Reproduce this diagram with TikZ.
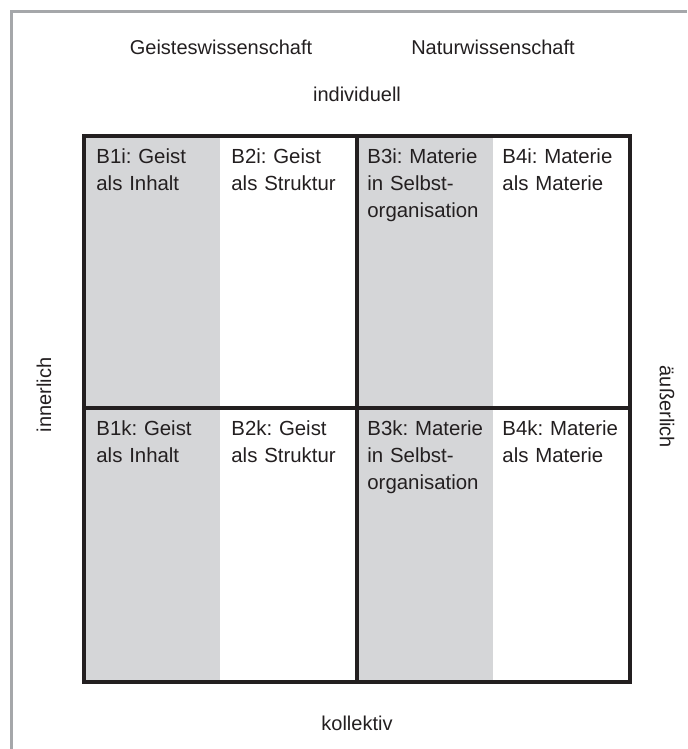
\documentclass[tikz,border=0pt]{standalone}
\usepackage{fontspec}
\setmainfont{Liberation Sans}
\definecolor{cellgray}{HTML}{D5D6D8}
\definecolor{framegray}{HTML}{A5A7AA}
\definecolor{inkgray}{HTML}{231F20}

\begin{document}
\frenchspacing
\begin{tikzpicture}
 [x=0.5pt, y=-0.5pt,
  cell text/.style={anchor=base west, inner sep=0pt, text width=64pt, align=left, font=\fontsize{10.2}{13.5}\selectfont\frenchspacing, text=inkgray},
  axis label/.style={inner sep=0pt, font=\fontsize{10}{12}\selectfont, text=inkgray},
  box line/.style={line width=2pt, draw=inkgray}]

\useasboundingbox (0,0) rectangle (687,749);

% frame
\draw[framegray, line width=1.5pt] (11,749) -- (11,12) -- (687,12);

% grey columns
\fill[cellgray] (85,136) rectangle (220,682);
\fill[cellgray] (357,136) rectangle (493,682);

% grid
\draw[box line] (84,136) rectangle (630,682);
\draw[box line] (357,136) -- (357,682);
\draw[box line] (84,408) -- (630,408);

\node[axis label, anchor=base] (geist) at (221,55) {Geisteswissenschaft};
\node[axis label, anchor=base] (natur) at (493,55) {Naturwissenschaft};
\node[axis label, anchor=base] (indiv) at (357,102) {individuell};
\node[axis label, anchor=base] (koll) at (357,730) {kollektiv};
\node[axis label, rotate=90] (inner) at (44,395) {innerlich};
\node[axis label, rotate=-90] (aussen) at (667,407) {äußerlich};

\node[cell text] (b1i) at (96,163) {B1i: Geist\\als Inhalt};
\node[cell text] (b2i) at (231,163) {B2i: Geist\\als Struktur};
\node[cell text] (b3i) at (367,163) {B3i: Materie\\in Selbst-\\organisation};
\node[cell text] (b4i) at (502,163) {B4i: Materie\\als Materie};

\node[cell text] (b1k) at (96,435) {B1k: Geist\\als Inhalt};
\node[cell text] (b2k) at (231,435) {B2k: Geist\\als Struktur};
\node[cell text] (b3k) at (367,435) {B3k: Materie\\in Selbst-\\organisation};
\node[cell text] (b4k) at (502,435) {B4k: Materie\\als Materie};

\end{tikzpicture}
\end{document}
